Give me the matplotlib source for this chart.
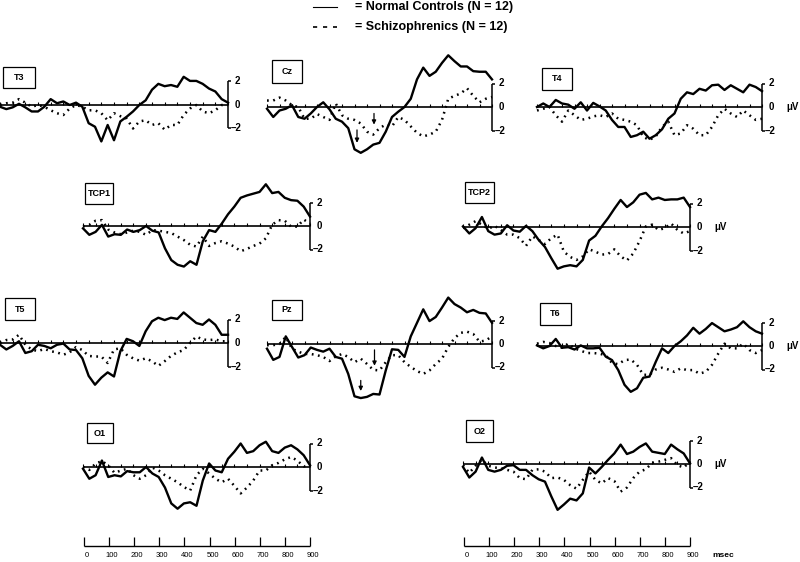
import matplotlib
matplotlib.use("Agg")
import matplotlib.pyplot as plt
from matplotlib.lines import Line2D
from matplotlib.patches import Rectangle

plt.rcParams['font.family'] = ['Liberation Sans', 'DejaVu Sans']
plt.rcParams['font.weight'] = 'bold'

# ---------------- data (microvolts, sampled every 25 ms from 0 to 900 ms) -------------
TIMES_MS = list(range(0, 901, 25))
TICK_MS = list(range(0, 901, 50))
SCALE_MS = list(range(0, 901, 100))
SCALE_LABELS = ['0', '100', '200', '300', '400', '500', '600', '700', '800', '900']

T3_NC = [-0.15, -0.35, -0.2, 0.1, -0.2, -0.55, -0.55, -0.15, 0.5, 0.15, 0.3, 0, 0.2, -0.15, -1.55, -1.85,
         -3.1, -1.7, -3.0, -1.4, -1.0, -0.55, 0, 0.4, 1.3, 1.8, 1.6, 1.7, 1.55, 2.4, 2.05, 2.05, 1.8, 1.4,
         1.15, 0.5, 0.2]
T3_SZ = [0, 0.15, 0.2, 0.5, 0.2, -0.15, 0, -0.15, -0.45, -0.7, -0.85, -0.3, 0, -0.15, -0.45, -0.45, -0.7,
         -1.3, -0.7, -0.95, -1.15, -2.0, -1.4, -1.3, -1.7, -1.55, -2.1, -1.7, -1.7, -0.85, -0.3, 0, -0.55,
         -0.7, -0.45, 0, 0]
CZ_NC = [-0.15, -0.85, -0.3, -0.15, 0.15, -0.85, -1.0, -0.55, 0, 0.4, -0.2, -1.0, -1.25, -1.8, -3.6, -3.9,
         -3.6, -3.2, -3.05, -2.1, -0.85, -0.4, 0, 0.7, 2.35, 3.35, 2.65, 3.0, 3.75, 4.4, 3.9, 3.45, 3.45,
         3.05, 3.0, 3.0, 2.35]
CZ_SZ = [0.55, 0.55, 0.8, 0.55, 0.15, 0, -1.0, -1.0, -0.6, -0.85, -1.1, 0.3, -0.7, -1.0, -1.1, -1.4, -2.1,
         -2.35, -1.8, -1.5, -1.65, -0.85, -1.1, -1.65, -2.2, -2.5, -2.35, -2.1, -1.1, 0.7, 0.95, 1.15, 1.6,
         0.95, 0.4, 0.7, 0.85]
T4_NC = [0, 0.3, 0, 0.6, 0.3, 0.2, -0.15, 0.4, -0.3, 0.35, 0.05, -0.3, -1.1, -1.7, -1.7, -2.55, -2.4, -2.1,
         -2.7, -2.4, -1.9, -1.0, -0.55, 0.7, 1.25, 1.1, 1.55, 1.4, 1.85, 1.9, 1.45, 1.85, 1.55, 1.25, 1.9,
         1.7, 1.35]
T4_SZ = [-0.3, -0.15, 0, -0.7, -1.25, -0.3, -0.7, -1.1, -1.0, -0.8, -0.7, -0.85, -0.55, -1.0, -1.1, -1.25,
         -1.55, -2.55, -2.8, -2.5, -1.7, -1.25, -2.4, -2.25, -1.55, -1.85, -2.4, -2.4, -1.7, -0.7, -0.15,
         -0.55, -0.85, -0.3, -0.7, -1.1, -1.0]
TCP1_NC = [-0.2, -0.75, -0.5, 0.1, -0.9, -0.7, -0.75, -0.3, -0.5, -0.35, 0, -0.4, -0.55, -1.9, -2.9, -3.3,
           -3.45, -3.0, -3.3, -1.3, -0.35, -0.5, 0.2, 1.0, 1.65, 2.4, 2.6, 2.75, 2.9, 3.55, 2.8, 2.9, 2.4,
           2.2, 2.15, 1.65, 0.8]
TCP1_SZ = [-0.05, 0.1, 0.45, 0.5, -0.3, -0.55, -0.7, -0.55, -0.4, -0.5, -0.75, -0.35, -0.4, -0.5, -0.6,
           -0.9, -1.2, -1.6, -1.75, -0.9, -1.7, -1.45, -1.3, -1.5, -1.75, -2.15, -1.95, -1.7, -1.5, -1.05,
           0.1, 0.5, 0.45, -0.05, -0.05, 0.55, 0.2]
TCP2_NC = [0.05, -0.55, -0.1, 0.85, -0.35, -0.65, -0.55, 0.15, -0.3, -0.4, 0.1, -0.35, -1.1, -1.7, -2.65,
           -3.55, -3.35, -3.25, -3.35, -2.8, -1.15, -0.75, 0.05, 0.75, 1.55, 2.3, 1.7, 2.1, 2.75, 2.9, 2.35,
           2.5, 2.3, 2.35, 2.35, 2.5, 1.7]
TCP2_SZ = [-0.1, 0.2, 0.5, 0.2, -0.15, 0.1, -0.25, -0.65, -0.65, -0.95, -1.6, -0.8, -1.1, -1.45, -0.95,
           -0.65, -2.1, -2.55, -2.8, -2.5, -1.9, -2.1, -2.35, -2.3, -1.9, -2.5, -2.85, -2.25, -1.2, 0.05,
           0.2, -0.25, -0.1, 0.3, -0.25, -0.55, -0.35]
T5_NC = [-0.15, -0.55, -0.25, 0.15, -0.85, -0.7, -0.15, -0.25, -0.45, -0.15, -0.05, -0.55, -0.6, -1.3,
         -2.8, -3.55, -2.95, -2.5, -2.85, -0.7, 0.35, 0.15, -0.25, 1.0, 1.85, 2.15, 1.95, 2.15, 2.05, 2.6,
         2.15, 1.7, 1.55, 2.0, 1.55, 0.7, 0.7]
T5_SZ = [0, 0.25, 0.3, 0.7, -0.15, -0.55, -0.7, -0.5, -0.7, -0.8, -1.0, -0.8, -0.35, -0.6, -1.1, -1.15,
         -1.15, -1.7, -0.55, -0.45, -1.0, -1.3, -1.5, -1.3, -1.55, -1.95, -1.55, -1.1, -0.8, -0.6, 0, 0.55,
         0.3, 0.25, 0.3, 0.15, 0.15]
PZ_NC = [-0.4, -1.35, -1.1, 0.65, -0.25, -1.15, -0.95, -0.3, -0.5, -0.65, -0.4, -1.1, -1.25, -2.55, -4.45,
         -4.6, -4.5, -4.25, -4.3, -2.25, -0.45, -0.5, -1.1, 0.65, 1.8, 2.95, 1.95, 2.3, 3.1, 3.95, 3.4, 3.1,
         2.7, 2.9, 2.65, 2.6, 1.8]
PZ_SZ = [-0.1, -0.1, 0, 0.6, -0.4, -0.65, -0.85, -0.85, -0.95, -1.1, -1.45, -1.05, -0.85, -1.1, -1.55,
         -1.25, -1.7, -2.2, -2.25, -1.55, -0.95, -0.95, -1.55, -1.95, -2.3, -2.55, -2.25, -1.7, -1.25, -0.25,
         0.5, 0.95, 1.05, 0.85, 0.2, 0.3, 0.65]
T6_NC = [0.05, -0.2, 0, 0.6, -0.15, -0.1, -0.3, 0.05, -0.2, -0.2, -0.15, -0.9, -1.2, -2.05, -3.3, -3.9,
         -3.6, -2.7, -2.6, -1.35, -0.2, -0.6, 0, 0.4, 0.9, 1.55, 1.05, 1.45, 1.95, 1.6, 1.25, 1.4, 1.6, 2.1,
         1.6, 1.25, 1.05]
T6_SZ = [0.2, 0.35, 0.25, 0, -0.15, 0.2, -0.2, -0.4, -0.6, -0.6, -0.65, -0.8, -1.45, -1.55, -1.2, -1.15,
         -1.6, -2.45, -2.45, -2.0, -1.85, -2.0, -2.2, -1.9, -2.05, -2.05, -2.35, -2.2, -1.6, -0.65, 0.2,
         -0.2, -0.2, 0.2, -0.35, -0.6, -0.35]
O1_NC = [-0.15, -1.0, -0.7, 0.55, -0.85, -0.7, -0.8, -0.35, -0.45, -0.45, 0, -0.55, -0.85, -1.75, -3.1,
         -3.55, -3.1, -3.0, -3.3, -1.15, 0.3, -0.3, -0.45, 0.7, 1.3, 2.0, 1.2, 1.35, 1.85, 2.15, 1.35, 1.2,
         1.65, 1.85, 1.5, 1.0, 0.15]
O1_SZ = [0, -0.25, 0.3, 0.5, 0.15, -0.5, -0.3, -0.15, -0.7, -1.0, -0.7, -0.05, -0.3, -0.7, -1.0, -1.3,
         -1.7, -2.0, -0.7, -0.15, -0.55, -1.0, -1.3, -1.0, -1.6, -2.25, -1.75, -1.15, -0.3, -0.3, 0.15, 0.35,
         0.65, 0.85, 0.55, 0.05, 0.15]
O2_NC = [-0.25, -1.15, -0.65, 0.55, -0.5, -0.65, -0.5, -0.15, -0.1, -0.5, -0.5, -0.95, -1.3, -1.5, -2.75,
         -3.9, -3.45, -2.95, -3.1, -2.5, -0.3, -0.8, -0.25, 0.35, 0.9, 1.65, 0.85, 1.05, 1.45, 1.75, 1.05,
         0.95, 0.85, 1.65, 1.25, 0.9, 0.05]
O2_SZ = [-0.1, -0.75, -0.15, 0.35, -0.15, -0.3, -0.35, -0.5, -0.65, -1.2, -1.3, -0.5, -0.45, -0.65, -1.2,
         -1.15, -1.35, -1.8, -2.1, -1.35, -0.65, -1.35, -1.65, -1.2, -1.45, -2.35, -2.0, -1.2, -0.65, -0.45,
         0.1, 0.2, 0.35, 0.5, -0.1, -0.3, 0.2]

# arrows: (time ms, start uV, end uV)
CZ_ARROWS = [(360, -1.95, -3.05), (428, -0.55, -1.5)]
PZ_ARROWS = [(375, -3.1, -4.0), (430, -0.5, -1.85)]

LEGEND_NC = 'Normal Controls (N = 12)'
LEGEND_SZ = 'Schizophrenics (N = 12)'

# ---------------- layout (pixels in the 800x562 image) ----------------
W, H = 800, 562
UV_PX = 11.75

# name: (x0, x1, baseline, box(x0,y0,x1,y1), show uV)
LAYOUT = {
    'T3': (0, 228, 105, (3, 67, 35, 88), False),
    'Cz': (267, 492, 107, (272, 60, 302, 83), False),
    'T4': (537, 762, 107, (542, 68, 572, 90), True),
    'TCP1': (83, 310, 226, (85, 183, 113, 204), False),
    'TCP2': (463, 690, 227, (465, 182, 494, 203), True),
    'T5': (0, 228, 343, (5, 298, 35, 320), False),
    'Pz': (267, 492, 344, (272, 300, 302, 320), False),
    'T6': (537, 762, 346, (540, 303, 571, 325), True),
    'O1': (83, 310, 467, (87, 423, 113, 443), False),
    'O2': (463, 690, 464, (466, 420, 493, 442), True),
}
PANELS = [('T3', T3_NC, T3_SZ, []), ('Cz', CZ_NC, CZ_SZ, CZ_ARROWS), ('T4', T4_NC, T4_SZ, []),
          ('TCP1', TCP1_NC, TCP1_SZ, []), ('TCP2', TCP2_NC, TCP2_SZ, []),
          ('T5', T5_NC, T5_SZ, []), ('Pz', PZ_NC, PZ_SZ, PZ_ARROWS), ('T6', T6_NC, T6_SZ, []),
          ('O1', O1_NC, O1_SZ, []), ('O2', O2_NC, O2_SZ, [])]

fig = plt.figure(figsize=(8, 5.62), dpi=100)
fig.patch.set_facecolor('white')


def fx(px):
    return px / W


def fy(py):
    return 1 - py / H


def make_axes(x0, x1, base, lo=-5.5, hi=5.5, pad=30):
    ppm = (x1 - x0) / 900.0
    left = x0 - pad * ppm
    right = x1 + pad * ppm
    top = base - hi * UV_PX
    bot = base - lo * UV_PX
    ax = fig.add_axes([fx(left), fy(bot), (right - left) / W, (bot - top) / H])
    ax.set_xlim(-pad, 900 + pad)
    ax.set_ylim(lo, hi)
    ax.axis('off')
    return ax, ppm


FS = 7
for name, nc, sz, arrows in PANELS:
    x0, x1, base, box, uv = LAYOUT[name]
    ax, ppm = make_axes(x0, x1, base)
    ax.hlines(0, TIMES_MS[0], TIMES_MS[-1], color='black', lw=1.2)
    ax.vlines(TICK_MS, 0, 0.25, color='black', lw=0.8)
    ax.vlines(900, -2, 2, color='black', lw=1.1)
    ax.hlines([-2, 2], 900, 900 + 3 / ppm, color='black', lw=1.1)
    ax.text(900 + 7 / ppm, 2, '2', fontsize=FS, va='center', ha='left', fontweight='bold')
    ax.text(900 + 7 / ppm, 0, '0', fontsize=FS, va='center', ha='left', fontweight='bold')
    ax.text(900 + 3 / ppm, -2, '\u20132', fontsize=FS, va='center', ha='left', fontweight='bold')
    if uv:
        ax.text(900 + 24 / ppm, 0, '\u03bcV', fontsize=FS, va='center', ha='left', fontweight='bold')
    ax.plot(TIMES_MS, nc, color='black', lw=1.7, solid_joinstyle='round')
    ax.plot(TIMES_MS, sz, color='black', lw=1.8, linestyle=(0, (0.7, 1.8)))
    for t, ys, ye in arrows:
        ax.annotate('', xy=(t, ye), xytext=(t, ys),
                    arrowprops=dict(arrowstyle='-|>', color='black', lw=0.9, mutation_scale=6,
                                    shrinkA=0, shrinkB=0))
    bx0, by0, bx1, by1 = box
    fig.add_artist(Rectangle((fx(bx0), fy(by1)), (bx1 - bx0) / W, (by1 - by0) / H,
                             transform=fig.transFigure, fill=False, ec='black', lw=0.9))
    fig.text(fx((bx0 + bx1) / 2), fy((by0 + by1) / 2), name, fontsize=6.5, fontweight='bold',
             ha='center', va='center')

# time scales at the bottom
for (x0, x1), msec in [((84, 310), False), ((464, 690), True)]:
    ax, ppm = make_axes(x0, x1, 546)
    ax.hlines(0, SCALE_MS[0], SCALE_MS[-1], color='black', lw=1.0)
    ax.vlines(SCALE_MS, 0, 0.8, color='black', lw=0.9)
    for t, lab in zip(SCALE_MS, SCALE_LABELS):
        ax.text(t + 3 / ppm, -0.85, lab, fontsize=5.5, ha='center', va='center', fontweight='normal')
    if msec:
        ax.text(900 + 22 / ppm, -0.85, 'msec', fontsize=6, ha='left', va='center', fontweight='bold')

# legend
fig.add_artist(Line2D([fx(313), fx(337)], [fy(7), fy(7)], color='black', lw=0.8,
                      transform=fig.transFigure))
fig.add_artist(Line2D([fx(313), fx(337)], [fy(27), fy(27)], color='black', lw=1.2,
                      linestyle=(0, (2.5, 3.5)), transform=fig.transFigure))
fig.text(fx(355), fy(7), '= ' + LEGEND_NC, fontsize=9, fontweight='bold', ha='left', va='center')
fig.text(fx(355), fy(27), '= ' + LEGEND_SZ, fontsize=9, fontweight='bold', ha='left', va='center')

fig.savefig('out.png', dpi=100, facecolor='white')
